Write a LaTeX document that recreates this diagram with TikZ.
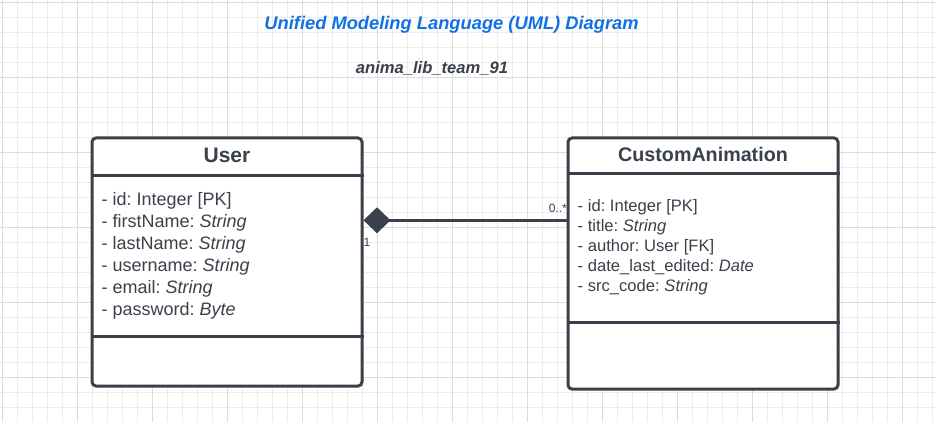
\documentclass[tikz,border=0pt]{standalone}
\usepackage{fontspec}
\setmainfont{Liberation Sans}
\usepackage{tikz}
\usetikzlibrary{arrows.meta}
\usetikzlibrary{positioning}
\usetikzlibrary{calc}
\frenchspacing

\definecolor{ink}{HTML}{3A414A}
\definecolor{lucidblue}{HTML}{1071E5}
\definecolor{gridminor}{HTML}{ECECEC}
\definecolor{gridmajor}{HTML}{DCDCDC}

\tikzset{cls/.style={draw=ink,line width=3pt,rounded corners=4pt,fill=white,minimum width=270pt}}
\tikzset{sep/.style={draw=ink,line width=3pt}}
\tikzset{hd/.style={anchor=base,inner sep=0pt,text=ink,font=\bfseries\fontsize{21}{21}\selectfont}}
\tikzset{atr/.style={anchor=north west,inner sep=0pt,align=left,text=ink}}
\tikzset{lbl/.style={inner sep=0pt,text=ink,font=\fontsize{12}{12}\selectfont}}
\tikzset{comp/.style={draw=ink,line width=3pt,-{Diamond[length=27pt,width=26pt,line width=0pt,fill=ink]}}}

\begin{document}
\begin{tikzpicture}[x=1pt,y=-1pt]
          \useasboundingbox (0,0) rectangle (936,422);
          \fill[white] (0,0) rectangle (936,422);
          % grid
          \foreach \x in {2.5,17.5,...,936} \draw[gridminor,line width=1pt] (\x,0) -- (\x,422);
          \foreach \y in {2.5,17.5,...,422} \draw[gridminor,line width=1pt] (0,\y) -- (936,\y);
          \foreach \x in {2.5,77.5,...,936} \draw[gridmajor,line width=1pt] (\x,0) -- (\x,422);
          \foreach \y in {2.5,77.5,...,422} \draw[gridmajor,line width=1pt] (0,\y) -- (936,\y);

          \node[anchor=base,inner sep=0pt,text=lucidblue,font=\bfseries\itshape\fontsize{18.3}{18.3}\selectfont] (title) at (451.5,29.3) {Unified Modeling Language (UML) Diagram};
          \node[anchor=base,inner sep=0pt,text=ink,font=\bfseries\itshape\fontsize{16.6}{16.6}\selectfont] (team) at (432,74) {anima\_lib\_team\_91};

          % classes
          \node[cls,minimum height=248pt] (user) at (227,262) {};
          \draw[sep] (user.west |- 0,176) -- (user.east |- 0,176);
          \draw[sep] (user.west |- 0,336) -- (user.east |- 0,336);
          \node[hd] (userhd) at (227,162.3) {User};
          \node[atr,font=\fontsize{18}{22}\selectfont] (userattr) at (101.5,190.3) {\strut- id: Integer [PK]\\- firstName: \textit{String}\\- lastName: \textit{String}\\- username: \textit{String}\\- email: \textit{String}\\- password: \textit{Byte}};

          \node[cls,minimum height=251pt] (anim) at (703,263.5) {};
          \draw[sep] (anim.west |- 0,173.5) -- (anim.east |- 0,173.5);
          \draw[sep] (anim.west |- 0,322) -- (anim.east |- 0,322);
          \node[hd,font=\bfseries\fontsize{19.7}{19.7}\selectfont] (animhd) at (703,161) {CustomAnimation};
          \node[atr,font=\fontsize{16.6}{20}\selectfont] (animattr) at (577.5,197.7) {\strut- id: Integer [PK]\\- title: \textit{String}\\- author: User [FK]\\- date\_last\_edited: \textit{Date}\\- src\_code: \textit{String}};

          % composition
          \coordinate (link) at (470,220.3);
          \draw[comp] (anim.west |- link) -- (user.east |- link);
          \node[lbl,anchor=base west] (one) at (363.5,246.5) {1};
          \node[lbl,anchor=base east] (many) at (567,212) {0..*};
        \end{tikzpicture}
\end{document}
